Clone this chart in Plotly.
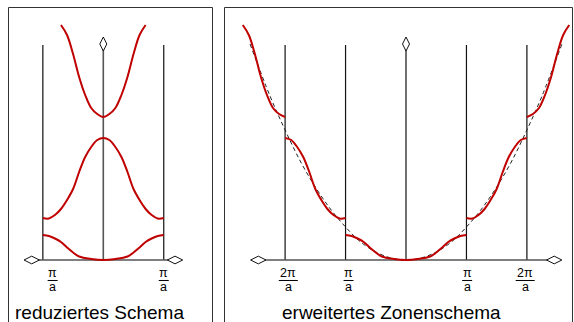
import plotly.graph_objects as go

# ---------------- data (k in units of pi/a, E in arbitrary units) ----------------
BAND1_K = [0, 0.2, 0.4, 0.5, 0.6, 0.7, 0.8, 0.9, 1.0]
BAND1_E = [0, 1, 3.5, 7.5, 12.5, 18, 21.5, 24, 25]

BAND2_K = [1.0, 1.1, 1.2, 1.3, 1.4, 1.5, 1.6, 1.7, 1.8, 1.9, 2.0]
BAND2_E = [42, 41.5, 45, 51, 60, 71, 88, 103, 113, 120, 122]

BAND3_K = [2.0, 2.1, 2.2, 2.3, 2.4, 2.5, 2.6, 2.7]
BAND3_E = [143, 146, 152, 165, 183, 206, 225, 235]

FREE_K = [0, 0.25, 0.5, 0.75, 1.0, 1.25, 1.5, 1.75, 2.0, 2.25, 2.58]
FREE_E = [0, 2, 8, 18, 33, 51, 73, 99, 130, 164, 216]

ZONE_TOP_E = 215
LEFT_TICKS = [-1, 1]
LEFT_TICK_TEXT = ["π", "π"]
RIGHT_TICKS = [-2, -1, 1, 2]
RIGHT_TICK_TEXT = ["2π", "π", "π", "2π"]
TITLES = ["reduziertes Schema", "erweitertes Zonenschema"]

# ---------------- layout constants (pixels) ----------------
W, H = 574, 322
KPX = 60.45
LEFT_CX, RIGHT_CX = 103.3, 406.0
E0_Y = 260.0
RED = "#c00000"
AXIS_GRAY = "#555555"
FONT = "Liberation Sans, Arial, sans-serif"


def E_of_y(ypx):
    return E0_Y - ypx


def mirror(ks, es):
    """ks ascending from 0 -> symmetric curve over [-kmax, kmax] (no duplicate 0)."""
    start = 1 if ks[0] == 0 else 0
    xs = [-k for k in reversed(ks[start:])] + list(ks)
    ys = list(reversed(es[start:])) + list(es)
    return xs, ys


fig = go.Figure()


def line_trace(xs, ys, xa, ya, color, width, dash=None, shape="linear"):
    fig.add_trace(go.Scatter(x=xs, y=ys, xaxis=xa, yaxis=ya, mode="lines",
                             line=dict(color=color, width=width, dash=dash,
                                       shape=shape, smoothing=1.0),
                             hoverinfo="skip", showlegend=False))


def arrows(xa, ya, hx):
    fig.add_trace(go.Scatter(x=[0], y=[216], xaxis=xa, yaxis=ya, mode="markers",
                             marker=dict(symbol="diamond-tall", size=10, color="white",
                                         line=dict(color="#111111", width=1)),
                             hoverinfo="skip", showlegend=False))
    fig.add_trace(go.Scatter(x=hx, y=[0, 0], xaxis=xa, yaxis=ya, mode="markers",
                             marker=dict(symbol="diamond-wide", size=11, color="white",
                                         line=dict(color="#111111", width=1)),
                             hoverinfo="skip", showlegend=False))


b1x, b1y = mirror(BAND1_K, BAND1_E)

# ---------- left panel: reduced zone scheme ----------
xa, ya = "x", "y"
lx_arrow = [(31.7 - LEFT_CX) / KPX, (175.0 - LEFT_CX) / KPX]
zx, zy = [], []
for k in LEFT_TICKS:
    zx += [k, k, None]
    zy += [0, ZONE_TOP_E, None]
line_trace(zx, zy, xa, ya, "#111111", 1.2)
line_trace([0, 0], [0, 216], xa, ya, AXIS_GRAY, 1.6)
line_trace(lx_arrow, [0, 0], xa, ya, AXIS_GRAY, 1.6)

line_trace(b1x, b1y, xa, ya, RED, 2, shape="spline")
# band 2 folded back by 2*pi/a: k' = 2 - k (ascending from 0)
b2k = [2 - k for k in reversed(BAND2_K)]
b2e = list(reversed(BAND2_E))
b2x, b2y = mirror(b2k, b2e)
line_trace(b2x, b2y, xa, ya, RED, 2, shape="spline")
# band 3 folded back by 2*pi/a: k' = k - 2
b3k = [k - 2 for k in BAND3_K]
b3x, b3y = mirror(b3k, BAND3_E)
line_trace(b3x, b3y, xa, ya, RED, 2, shape="spline")
arrows(xa, ya, lx_arrow)

# ---------- right panel: extended zone scheme ----------
xa, ya = "x2", "y2"
rx_arrow = [(258.3 - RIGHT_CX) / KPX, (554.2 - RIGHT_CX) / KPX]
zx, zy = [], []
for k in RIGHT_TICKS:
    zx += [k, k, None]
    zy += [0, ZONE_TOP_E, None]
line_trace(zx, zy, xa, ya, "#111111", 1.2)
line_trace([0, 0], [0, 216], xa, ya, "#111111", 1.2)
line_trace(rx_arrow, [0, 0], xa, ya, AXIS_GRAY, 1.6)

fx, fy = mirror(FREE_K, FREE_E)
line_trace(fx, fy, xa, ya, "#222222", 1, dash="4px,3px", shape="spline")
line_trace(b1x, b1y, xa, ya, RED, 2, shape="spline")
for ks, es in [(BAND2_K, BAND2_E), (BAND3_K, BAND3_E)]:
    line_trace([-k for k in ks], es, xa, ya, RED, 2, shape="spline")
    line_trace(list(ks), es, xa, ya, RED, 2, shape="spline")
arrows(xa, ya, rx_arrow)

# ---------- tick labels (fractions) ----------
annotations = []
shapes = []


def frac_label(xref, yref, k, txt, xshift):
    # numerator and "a" as separate texts, spaced so their boxes do not overlap
    for t, yc in [(txt, 272.6), ("a", 287.0)]:
        annotations.append(dict(x=k, y=E_of_y(yc), xref=xref, yref=yref, text=t,
                                showarrow=False, xshift=xshift, xanchor="center",
                                yanchor="middle", font=dict(family=FONT, size=12.5,
                                                            color="black")))
    half = 5.0 if len(txt) == 1 else 9.5
    shapes.append(dict(type="line", xref=xref, yref=yref, xsizemode="pixel",
                       xanchor=k, x0=xshift - half, x1=xshift + half,
                       y0=E_of_y(280.5), y1=E_of_y(280.5),
                       line=dict(color="black", width=1)))


for k, t, s in zip(LEFT_TICKS, LEFT_TICK_TEXT, [9.8, 0.0]):
    frac_label("x", "y", k, t, s)
for k, t, s in zip(RIGHT_TICKS, RIGHT_TICK_TEXT, [3.2, 3.0, 0.7, -1.7]):
    frac_label("x2", "y2", k, t, s)

# ---------- captions ----------
annotations.append(dict(x=99 / W, y=1 - 312.5 / H, xref="paper", yref="paper",
                        text=TITLES[0], showarrow=False, xanchor="center", yanchor="middle",
                        font=dict(family=FONT, size=19, color="black")))
annotations.append(dict(x=391.7 / W, y=1 - 312.5 / H, xref="paper", yref="paper",
                        text=TITLES[1], showarrow=False, xanchor="center", yanchor="middle",
                        font=dict(family=FONT, size=19, color="black")))

# ---------- panel frames ----------
for x0, x1 in [(8.5, 212.5), (224.5, 572.5)]:
    shapes.append(dict(type="rect", xref="paper", yref="paper",
                       x0=x0 / W, x1=x1 / W, y0=-0.2, y1=1 - 7.5 / H,
                       line=dict(color="#333333", width=1), fillcolor="rgba(0,0,0,0)",
                       layer="below"))

axis_common = dict(visible=False, fixedrange=True)
fig.update_layout(
    width=W, height=H, margin=dict(l=0, r=0, t=0, b=0),
    paper_bgcolor="white", plot_bgcolor="white", showlegend=False, hovermode=False,
    xaxis=dict(domain=[8 / W, 213 / W],
               range=[(8 - LEFT_CX) / KPX, (213 - LEFT_CX) / KPX], **axis_common),
    yaxis=dict(domain=[0, 1], range=[E0_Y - H, E0_Y], **axis_common),
    xaxis2=dict(domain=[224 / W, 573 / W],
                range=[(224 - RIGHT_CX) / KPX, (573 - RIGHT_CX) / KPX], **axis_common),
    yaxis2=dict(domain=[0, 1], range=[E0_Y - H, E0_Y], anchor="x2", **axis_common),
    annotations=annotations, shapes=shapes,
)

fig.write_html("out.html")
